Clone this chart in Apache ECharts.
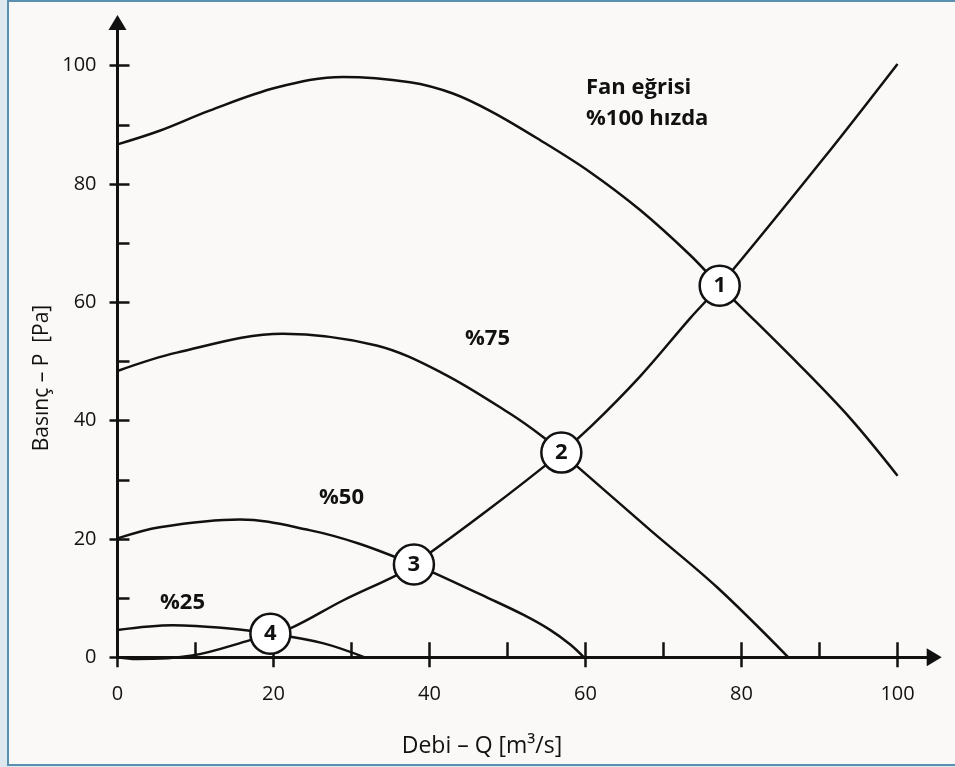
<!DOCTYPE html>
<html>
<head>
<meta charset="utf-8">
<script src="https://cdn.jsdelivr.net/npm/echarts@6/dist/echarts.min.js"></script>
<style>
html,body{margin:0;padding:0;background:#dde8ef;}
#c{width:955px;height:767px;}
</style>
</head>
<body>
<div id="c"></div>
<script>
// ---- Data ----
const fan100Q = [0, 5.4, 11.8, 20.4, 28.9, 37.5, 43, 48, 54.2, 60.6, 67, 73.4, 77.2, 87.5, 94, 100];
const fan100P = [86.7, 89, 92.4, 96.3, 98.1, 97.2, 95.3, 92.2, 87.4, 82, 75.6, 68, 62.8, 49.3, 40.3, 30.7];

const fan75Q = [0, 7.6, 21.2, 33.2, 41.7, 50.3, 54.6, 56.9, 68.3, 76.9, 86];
const fan75P = [48.4, 51.5, 54.7, 52.7, 48, 41.2, 37.2, 34.6, 21.5, 11.8, 0];

const fan50Q = [0, 5.4, 15.7, 24.6, 31, 38, 40.7, 47.4, 52, 55.5, 58, 59.8];
const fan50P = [20.1, 22, 23.3, 21.5, 19.2, 15.7, 14.2, 10.1, 7.2, 4.6, 2.2, 0];

const fan25Q = [0, 7.1, 14, 19.6, 26.3, 31.7];
const fan25P = [4.6, 5.4, 4.9, 4.0, 2.4, 0];

const systemQ = [0, 2.4, 9.6, 17, 19.6, 22.5, 28.9, 35.8, 38, 47.4, 56.9, 60.6, 67, 73.4, 77.2, 90.5, 100];
const systemP = [0, -0.3, 0.3, 2.9, 4.0, 5.1, 9.6, 13.9, 15.7, 24.8, 34.6, 38.9, 47.5, 57.3, 62.8, 84.3, 100.3];

const opQ = [77.2, 56.9, 38, 19.6];
const opP = [62.8, 34.6, 15.7, 4.0];
const opLabels = ['1', '2', '3', '4'];

const xMajorTicks = [0, 20, 40, 60, 80, 100];
const xMinorTicks = [0, 10, 20, 30, 40, 50, 60, 70, 80, 90, 100];
const yMajorTicks = [0, 20, 40, 60, 80, 100];
const yMinorTicks = [0, 10, 20, 30, 40, 50, 60, 70, 80, 90, 100];

const xTitle = 'Debi – Q [m³/s]';
const yTitle = 'Basınç – P  [Pa]';
const curveNames = ['Fan eğrisi\n%100 hızda', '%75', '%50', '%25'];

// ---- Chart ----
const FONT = "'Open Sans', 'Noto Sans', sans-serif";
const INK = '#111';
const pairs = (q, p) => q.map((v, i) => [v, p[i]]);

function curve(name, q, p) {
  return {
    type: 'line', name: name, data: pairs(q, p),
    xAxisIndex: 0, yAxisIndex: 0,
    showSymbol: false, symbol: 'none',
    smooth: 0.35, clip: false,
    lineStyle: { color: INK, width: 2.5 },
    z: 3, silent: true
  };
}

const chart = echarts.init(document.getElementById('c'), null, { renderer: 'canvas' });

const baseX = { type: 'value', min: 0, max: 104.7, position: 'bottom', splitLine: { show: false } };
const baseY = { type: 'value', min: 0, max: 107.3, position: 'left', splitLine: { show: false } };

chart.setOption({
  backgroundColor: '#dde8ef',
  animation: false,
  grid: { left: 117.5, top: 22.5, width: 816.7, height: 634.8, containLabel: false },
  xAxis: [
    Object.assign({}, baseX, {
      axisLine: { show: true, symbol: ['none', 'triangle'], symbolSize: [18, 15],
                  lineStyle: { color: INK, width: 3 } },
      axisTick: { show: true, inside: true, length: 15, customValues: xMinorTicks,
                  lineStyle: { color: INK, width: 2.5 } },
      axisLabel: { show: true, customValues: xMajorTicks, margin: 27,
                   fontFamily: FONT, fontSize: 20, color: INK }
    }),
    Object.assign({}, baseX, {
      axisLine: { show: false },
      axisTick: { show: true, inside: false, length: 10, customValues: xMajorTicks,
                  lineStyle: { color: INK, width: 2.5 } },
      axisLabel: { show: false }
    })
  ],
  yAxis: [
    Object.assign({}, baseY, {
      axisLine: { show: true, symbol: ['none', 'triangle'], symbolSize: [18, 15],
                  lineStyle: { color: INK, width: 3 } },
      axisTick: { show: true, inside: true, length: 12, customValues: yMinorTicks,
                  lineStyle: { color: INK, width: 2.5 } },
      axisLabel: { show: true, customValues: yMajorTicks, margin: 21, padding: [5, 0, 0, 0],
                   fontFamily: FONT, fontSize: 20, color: INK }
    }),
    Object.assign({}, baseY, {
      axisLine: { show: false },
      axisTick: { show: true, inside: false, length: 8, customValues: yMajorTicks,
                  lineStyle: { color: INK, width: 2.5 } },
      axisLabel: { show: false }
    })
  ],
  graphic: [
    { type: 'rect', z: -10, silent: true,
      shape: { x: 8, y: 1, width: 960, height: 764 },
      style: { fill: '#faf9f7', stroke: '#5b8fb0', lineWidth: 2 } },
    { type: 'text', x: 482, y: 746, silent: true,
      style: { text: xTitle, font: '23px ' + FONT, fill: INK, textAlign: 'center', textVerticalAlign: 'middle' } },
    { type: 'text', x: 42, y: 378, rotation: Math.PI / 2, silent: true,
      style: { text: yTitle, font: '21px ' + FONT, fill: INK, textAlign: 'center', textVerticalAlign: 'middle' } },
    { type: 'text', x: 586, y: 103, silent: true,
      style: { text: curveNames[0], font: 'bold 22px ' + FONT, fill: INK, lineHeight: 31,
               textAlign: 'left', textVerticalAlign: 'middle' } },
    { type: 'text', x: 465, y: 339, silent: true,
      style: { text: curveNames[1], font: 'bold 22px ' + FONT, fill: INK, textAlign: 'left', textVerticalAlign: 'middle' } },
    { type: 'text', x: 319, y: 498, silent: true,
      style: { text: curveNames[2], font: 'bold 22px ' + FONT, fill: INK, textAlign: 'left', textVerticalAlign: 'middle' } },
    { type: 'text', x: 160, y: 603, silent: true,
      style: { text: curveNames[3], font: 'bold 22px ' + FONT, fill: INK, textAlign: 'left', textVerticalAlign: 'middle' } }
  ],
  series: [
    curve('fan100', fan100Q, fan100P),
    curve('fan75', fan75Q, fan75P),
    curve('fan50', fan50Q, fan50P),
    curve('fan25', fan25Q, fan25P),
    curve('system', systemQ, systemP),
    {
      type: 'scatter', name: 'points', xAxisIndex: 0, yAxisIndex: 0, z: 5, silent: true,
      data: opQ.map((q, i) => ({ value: [q, opP[i]], name: opLabels[i] })),
      symbol: 'circle', symbolSize: 40,
      itemStyle: { color: '#fff', borderColor: INK, borderWidth: 2.5, opacity: 1 },
      label: { show: true, position: 'inside', formatter: p => p.name,
               fontFamily: FONT, fontWeight: 'bold', fontSize: 22, color: INK }
    }
  ]
});
</script>
</body>
</html>
